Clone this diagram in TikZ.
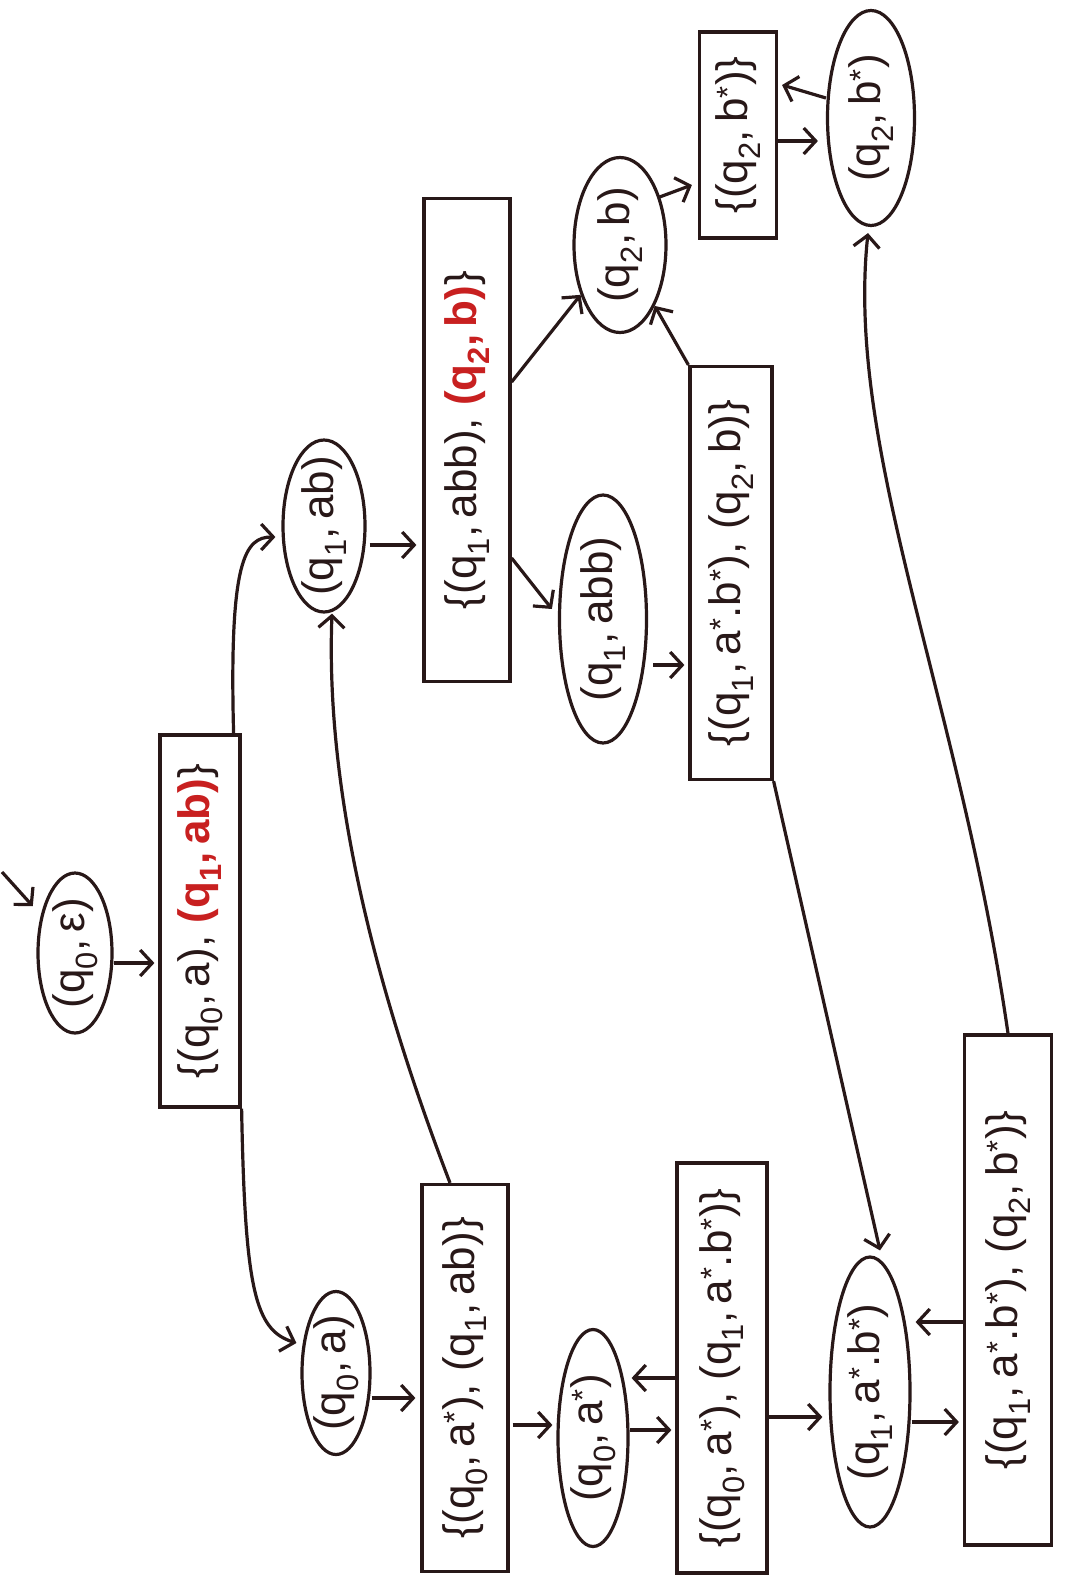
\documentclass[tikz,border=0pt]{standalone}
\usepackage{fontspec}
\setmainfont{Liberation Sans}
\usepackage{graphicx}
\usetikzlibrary{shapes.geometric,arrows.meta,calc}
\definecolor{ink}{RGB}{40,24,24}
\definecolor{hred}{RGB}{200,32,32}
\newcommand{\st}[2]{(q\textsubscript{#1},\,#2)}
\newcommand{\hr}[1]{{\color{hred}\bfseries #1}}
\newcommand{\sx}{\textsuperscript{*}}
\newcommand{\rt}[1]{\rotatebox{90}{#1}}
\begin{document}
\begin{tikzpicture}[x=1pt,y=-1pt,
  every node/.style={inner sep=0pt, text=ink, font=\fontsize{44}{52}\selectfont},
  oval/.style={ellipse, draw=ink, line width=3.2pt, inner xsep=-4pt, inner ysep=-40pt},
  setbox/.style={rectangle, draw=ink, line width=3.2pt},
  arr/.style={draw=ink, line width=3.2pt, -{Straight Barb[length=12pt,width=26pt]}},
]
\useasboundingbox (0,0) rectangle (1073,1585);
\fill[white] (0,0) rectangle (1073,1585);

% nodes
\node[oval, minimum width=74pt, minimum height=160pt] (qe) at (75,953) {\rt{\st{0}{ε}}};
\node[setbox, minimum width=80pt, minimum height=372pt] (B2) at (200,921) {\rt{\{\st{0}{a}, \hr{\st{1}{ab}}\}}};
\node[oval, minimum width=68pt, minimum height=163pt] (qa) at (336,1373) {\rt{\st{0}{a}}};
\node[oval, minimum width=82pt, minimum height=172pt] (qab) at (324,526) {\rt{\st{1}{ab}}};
\node[setbox, minimum width=86pt, minimum height=387pt] (B5) at (465,1378) {\rt{\{\st{0}{a\sx}, \st{1}{ab}\}}};
\node[setbox, minimum width=86pt, minimum height=483pt] (B6) at (467,440) {\rt{\{\st{1}{abb}, \hr{\st{2}{b}}\}}};
\node[oval, minimum width=70pt, minimum height=217pt] (qas) at (593,1438) {\rt{\st{0}{a\sx}}};
\node[oval, minimum width=87pt, minimum height=248pt] (qabb) at (603,619) {\rt{\st{1}{abb}}};
\node[oval, minimum width=92pt, minimum height=175pt] (qb) at (620,245) {\rt{\st{2}{b}}};
\node[setbox, minimum width=90pt, minimum height=410pt] (B10) at (722,1368) {\rt{\{\st{0}{a\sx}, \st{1}{a\sx.b\sx}\}}};
\node[setbox, minimum width=82pt, minimum height=413pt] (B11) at (731,573) {\rt{\{\st{1}{a\sx.b\sx}, \st{2}{b}\}}};
\node[setbox, minimum width=77pt, minimum height=206pt] (B12) at (738,135) {\rt{\{\st{2}{b\sx}\}}};
\node[oval, minimum width=80pt, minimum height=270pt] (qabs) at (870,1392) {\rt{\st{1}{a\sx.b\sx}}};
\node[oval, minimum width=87pt, minimum height=215pt] (qbs) at (871,118) {\rt{\st{2}{b\sx}}};
\node[setbox, minimum width=87pt, minimum height=510pt] (B15) at (1008,1290) {\rt{\{\st{1}{a\sx.b\sx}, \st{2}{b\sx}\}}};

% connectors
\coordinate (s0) at (2,872);
\draw[arr, shorten >=12pt] (s0) -- (qe);
\draw[arr] ($(qe.east)+(0,10)$) -- ($(B2.west)+(-4,42)$);
\draw[arr] (B2.south east) .. controls (245,1290) and (255,1330) .. ($(qa.west)+(-4,-30)$);
\draw[arr] ($(B2.north east)+(-8,0)$) .. controls (229,560) and (245,537) .. ($(qab.west)+(-6,11)$);
\draw[arr] ($(qa.east)+(0,25)$) -- ($(B5.west)+(-5,20)$);
\draw[arr] ($(B5.north)+(-15,0)$) .. controls (380,1000) and (325,800) .. ($(qab.south)+(8,0)$);
\draw[arr] ($(qab.east)+(3,19)$) -- ($(B6.west)+(-6,105)$);
\draw[arr] ($(B5.east)+(3,47)$) -- ($(qas.west)+(-4,-13)$);
\draw[arr] ($(B6.east)+(0,118)$) -- ($(qabb.west)+(-6,-10)$);
\draw[arr] ($(B6.east)+(0,-58)$) -- (qb);
\draw[arr] ($(qas.east)+(0,-8)$) -- ($(B10.west)+(-4,62)$);
\draw[arr] ($(B10.west)+(0,10)$) -- ($(qas.east)+(2,-60)$);
\draw[arr] ($(qabb.east)+(5,46)$) -- ($(B11.west)+(-4,92)$);
\draw[arr] (B11.north west) -- (qb);
\draw[arr] ($(qb.east)+(-8,-48)$) -- ($(B12.west)+(-6,50)$);
\draw[arr] ($(B12.east)+(0,6)$) -- ($(qbs.west)+(-8,23)$);
\draw[arr] ($(qbs.west)+(0,-20)$) -- ($(B12.east)+(4,-50)$);
\draw[arr] (B11.south east) -- ($(qabs.north)+(10,-5)$);
\draw[arr] ($(B10.east)+(0,49)$) -- ($(qabs.west)+(-6,25)$);
\draw[arr] ($(qabs.east)+(0,30)$) -- ($(B15.west)+(-4,132)$);
\draw[arr] ($(B15.west)+(0,32)$) -- ($(qabs.east)+(4,-70)$);
\draw[arr] (B15.north) .. controls (960,700) and (845,450) .. ($(qbs.south)+(-3,6)$);
\end{tikzpicture}
\end{document}
